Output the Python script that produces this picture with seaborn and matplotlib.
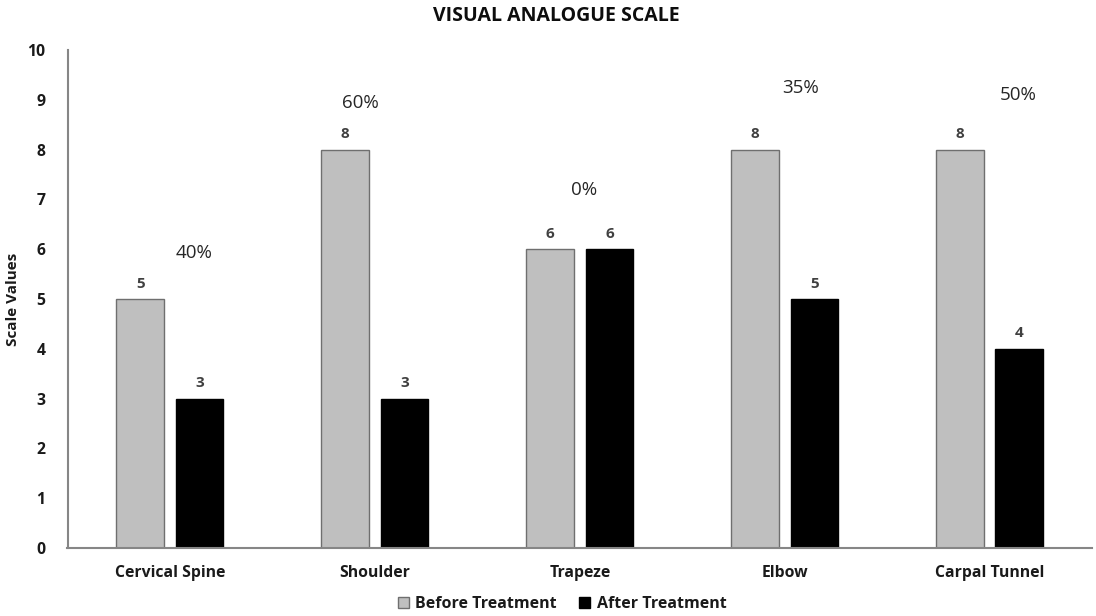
import matplotlib
matplotlib.use("Agg")
import matplotlib.pyplot as plt
import seaborn as sns
import pandas as pd
from matplotlib.patches import Patch

categories = ["Cervical Spine", "Shoulder", "Trapeze", "Elbow", "Carpal Tunnel"]
before = [5, 8, 6, 8, 8]
after = [3, 3, 6, 5, 4]
improvement = ["40%", "60%", "0%", "35%", "50%"]
series = ["Before Treatment", "After Treatment"]

# layout for the percentage annotations (offset in category units, height in data units)
pct_dx = [0.12, -0.07, 0.02, 0.08, 0.14]
pct_y = [5.92, 8.94, 7.19, 9.24, 9.1]

df = pd.DataFrame({
    "Category": categories * 2,
    "Value": before + after,
    "Series": [series[0]] * len(categories) + [series[1]] * len(categories),
})

sns.set_theme(style="white")
plt.rcParams['font.family'] = ['Open Sans', 'DejaVu Sans']

fig = plt.figure(figsize=(10.96, 6.16), dpi=100)
ax = fig.add_axes([67.5 / 1096, 1 - 548 / 616, (1092 - 67.5) / 1096, (548 - 50) / 616])

palette = {series[0]: "#bfbfbf", series[1]: "#000000"}
sns.barplot(data=df, x="Category", y="Value", hue="Series", palette=palette,
            width=0.58, gap=0.2, ax=ax, legend=False, saturation=1)

edge = {0: "#6f6f6f", 1: "#000000"}
for i, cont in enumerate(ax.containers):
    for p in cont:
        p.set_edgecolor(edge[i])
        p.set_linewidth(1.0)
    ax.bar_label(cont, labels=[str(v) for v in (before if i == 0 else after)],
                 padding=6, fontsize=11, fontweight="bold", color="#404040")

for i, txt in enumerate(improvement):
    ax.text(i + pct_dx[i], pct_y[i], txt, ha="center", va="center",
            fontsize=13.5, color="#262626")

ax.set_ylim(0, 10)
ax.set_xlim(-0.5, len(categories) - 0.5)
ax.set_yticks(range(0, 11))
ax.tick_params(axis="both", length=0)
ax.tick_params(axis="y", pad=16)
ax.tick_params(axis="x", pad=12)
for lab in ax.get_xticklabels() + ax.get_yticklabels():
    lab.set_fontweight("bold")
    lab.set_fontsize(11.3)
    lab.set_color("#1a1a1a")
ax.set_xlabel("")
ax.set_ylabel("Scale Values", fontsize=11, fontweight="bold", color="#1a1a1a")
ax.yaxis.set_label_coords((20 - 67.5) / 1024.5, 0.5)

for s in ["top", "right"]:
    ax.spines[s].set_visible(False)
for s in ["left", "bottom"]:
    ax.spines[s].set_color("#868686")
    ax.spines[s].set_linewidth(1.5)

fig.suptitle("VISUAL ANALOGUE SCALE", x=556 / 1096, y=1 - 16 / 616, va="center",
             fontsize=14, fontweight="bold", color="#0d0d0d")

handles = [Patch(facecolor="#bfbfbf", edgecolor="#6f6f6f"),
           Patch(facecolor="#000000", edgecolor="#000000")]
leg = fig.legend(handles, series, loc="center", bbox_to_anchor=(562 / 1096, 1 - 604 / 616),
                 ncol=2, frameon=False, handlelength=0.7, handleheight=0.7,
                 handletextpad=0.4, columnspacing=1.4,
                 prop={"weight": "bold", "size": 11.5})
for t in leg.get_texts():
    t.set_color("#1a1a1a")

fig.savefig("out.png", dpi=100)
